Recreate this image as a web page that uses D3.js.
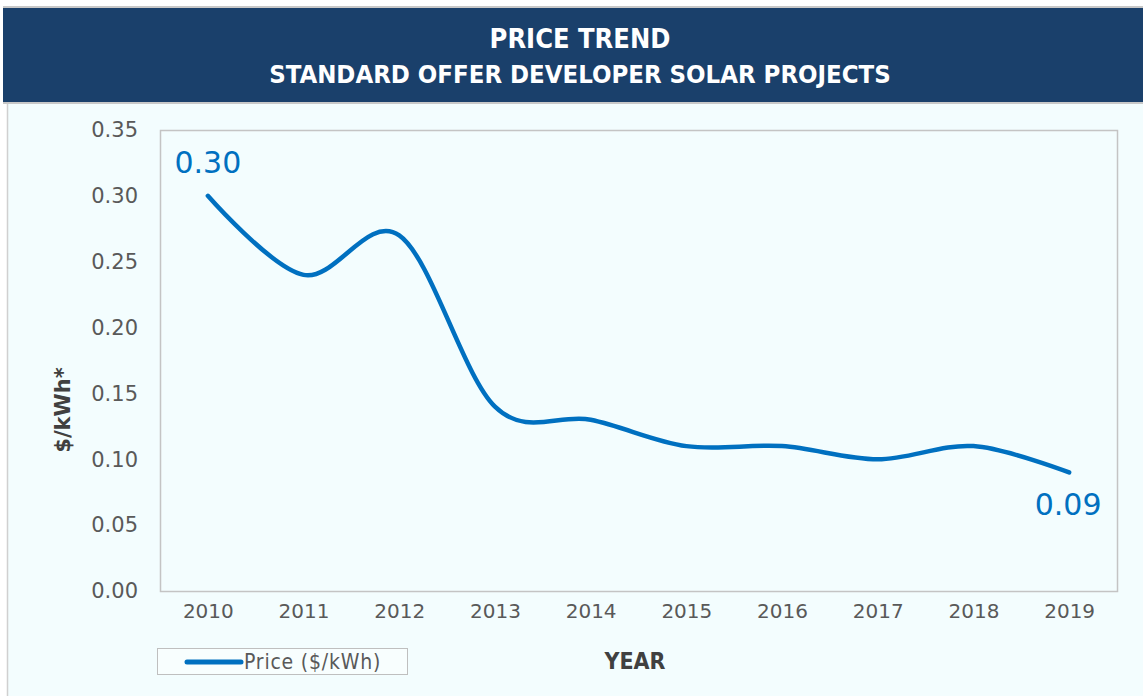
<!DOCTYPE html>
<html>
<head>
<meta charset="utf-8">
<script src="https://cdn.jsdelivr.net/npm/d3@7"></script>
<style>
  html, body { margin: 0; padding: 0; background: #ffffff; }
  svg { display: block; }
</style>
</head>
<body>
<svg id="chart" width="1143" height="696"></svg>
<script>
const years = ["2010", "2011", "2012", "2013", "2014", "2015", "2016", "2017", "2018", "2019"];
const prices = [0.30, 0.24, 0.27, 0.14, 0.13, 0.11, 0.11, 0.10, 0.11, 0.09];
const yTicks = [0, 0.05, 0.10, 0.15, 0.20, 0.25, 0.30, 0.35];
const titleLines = ["PRICE TREND", "STANDARD OFFER DEVELOPER SOLAR PROJECTS"];
const seriesName = "Price ($/kWh)";

const svg = d3.select("#chart");
const W = 1143, H = 696;
const margin = { top: 130, right: 26, bottom: 105, left: 160 };
const width = W - margin.left - margin.right;
const height = H - margin.top - margin.bottom;
const condensed = "'DejaVu Sans Condensed', 'Liberation Sans Narrow', sans-serif";
const plain = "'DejaVu Sans', Verdana, sans-serif";

// panel background
svg.append("rect").attr("x", 7).attr("y", 103).attr("width", W - 7).attr("height", H - 103)
  .attr("fill", "#f3fdfe");
svg.append("line").attr("x1", 7.5).attr("x2", 7.5).attr("y1", 103).attr("y2", H)
  .attr("stroke", "#d0d0d0").attr("stroke-width", 1.5);

// header band
svg.append("rect").attr("x", 3).attr("y", 6).attr("width", W - 3).attr("height", 98)
  .attr("fill", "#c8c8c8");
svg.append("rect").attr("x", 3).attr("y", 8).attr("width", W - 3).attr("height", 94)
  .attr("fill", "#1a406b");
svg.append("text").attr("x", 580).attr("y", 48).attr("text-anchor", "middle")
  .attr("fill", "#fff").style("font-family", condensed)
  .style("font-size", "27px").style("font-weight", "bold").text(titleLines[0]);
svg.append("text").attr("x", 580).attr("y", 83).attr("text-anchor", "middle")
  .attr("fill", "#fff").style("font-family", condensed)
  .style("font-size", "25.5px").style("font-weight", "bold").text(titleLines[1]);

const x = d3.scalePoint().domain(years).range([0, width]).padding(0.5);
const y = d3.scaleLinear().domain([0, 0.35]).range([height, 0]);

const g = svg.append("g").attr("transform", `translate(${margin.left},${margin.top})`);

g.append("rect").attr("x", 0.5).attr("y", 0.5).attr("width", width).attr("height", height)
  .attr("fill", "none").attr("stroke", "#c4c4c4").attr("stroke-width", 1.5);

// y axis
const yAxis = g.append("g").call(d3.axisLeft(y).tickValues(yTicks).tickFormat(d3.format(".2f")).tickSize(0).tickPadding(22));
yAxis.select(".domain").remove();
yAxis.selectAll("text").attr("fill", "#595959")
  .style("font-family", plain).style("font-size", "21px");

// x axis
const xAxis = g.append("g").attr("transform", `translate(0,${height})`)
  .call(d3.axisBottom(x).tickSize(0).tickPadding(13));
xAxis.select(".domain").remove();
xAxis.selectAll("text").attr("fill", "#595959")
  .style("font-family", plain).style("font-size", "20px");

// line
const line = d3.line()
  .x((d, i) => x(years[i]))
  .y(d => y(d))
  .curve(d3.curveCatmullRom.alpha(0));
g.append("path").datum(prices).attr("d", line)
  .attr("fill", "none").attr("stroke", "#0070c0").attr("stroke-width", 4.5)
  .attr("stroke-linecap", "round").attr("stroke-linejoin", "round");

// end labels
const last = prices.length - 1;
g.append("text").attr("x", x(years[0])).attr("y", y(prices[0]) - 23).attr("text-anchor", "middle")
  .attr("fill", "#0070c0").style("font-family", plain)
  .style("font-size", "30px").text(prices[0].toFixed(2));
g.append("text").attr("x", x(years[last]) - 1).attr("y", y(prices[last]) + 43).attr("text-anchor", "middle")
  .attr("fill", "#0070c0").style("font-family", plain)
  .style("font-size", "30px").text(prices[last].toFixed(2));

// axis titles
svg.append("text").attr("transform", "translate(70,410) rotate(-90)").attr("text-anchor", "middle")
  .attr("fill", "#404040").style("font-family", plain)
  .style("font-size", "21px").style("font-weight", "bold").text("$/kWh*");
svg.append("text").attr("x", 635).attr("y", 669).attr("text-anchor", "middle")
  .attr("fill", "#404040").style("font-family", condensed)
  .style("font-size", "23px").style("font-weight", "bold").text("YEAR");

// legend
const lg = svg.append("g").attr("transform", "translate(157,648)");
lg.append("rect").attr("x", 0.5).attr("y", 0.5).attr("width", 250).attr("height", 26)
  .attr("fill", "#f8fefe").attr("stroke", "#bfbfbf");
lg.append("line").attr("x1", 30).attr("x2", 84).attr("y1", 14).attr("y2", 14)
  .attr("stroke", "#0070c0").attr("stroke-width", 5).attr("stroke-linecap", "round");
lg.append("text").attr("x", 87).attr("y", 21).attr("fill", "#595959")
  .style("font-family", condensed).style("letter-spacing", "0.8px")
  .style("font-size", "21px").text(seriesName);
</script>
</body>
</html>
